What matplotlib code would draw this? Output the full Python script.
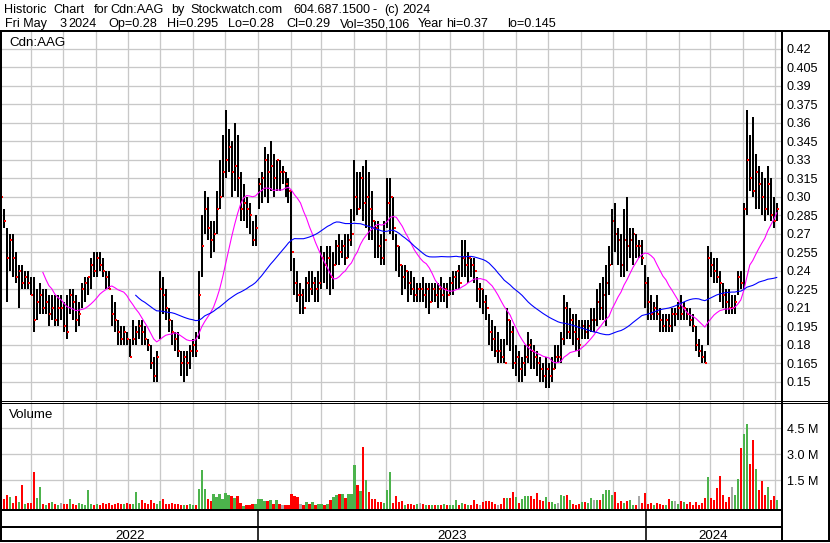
import numpy as np
import pandas as pd
import matplotlib
matplotlib.use("Agg")
import matplotlib.pyplot as plt
import matplotlib.dates as mdates
from matplotlib.lines import Line2D

plt.rcParams['font.family'] = ['Liberation Sans', 'DejaVu Sans']

# prices are stored in half-cent steps (57 -> 0.285), volume in 10,000 shares
STEP = 0.005
high = [
    61, 58, 55, 54, 54, 51, 49, 49, 48, 48,
    47, 47, 45, 46, 45, 45, 44, 44, 44, 44,
    44, 43, 44, 45, 45, 44, 43, 46, 47, 47,
    50, 51, 51, 51, 50, 48, 48, 44, 43, 40,
    39, 39, 38, 37, 40, 39, 40, 40, 39, 37,
    36, 34, 35, 48, 47, 45, 42, 40, 38, 38,
    35, 35, 35, 36, 37, 38, 48, 57, 61, 60,
    56, 56, 61, 66, 70, 74, 71, 69, 72, 70,
    64, 62, 60, 59, 56, 57, 63, 64, 68, 67,
    69, 67, 66, 66, 65, 64, 63, 61, 50, 48,
    46, 45, 47, 48, 48, 47, 48, 52, 51, 52,
    52, 51, 53, 54, 53, 54, 54, 58, 66, 64,
    64, 65, 66, 64, 61, 56, 56, 54, 56, 63,
    63, 60, 54, 52, 49, 49, 48, 48, 47, 46,
    46, 47, 46, 46, 46, 46, 46, 47, 46, 46,
    47, 48, 48, 49, 53, 53, 51, 50, 50, 47,
    46, 45, 44, 41, 40, 39, 38, 37, 37, 42,
    40, 39, 36, 35, 34, 36, 38, 37, 36, 35,
    34, 33, 34, 33, 34, 36, 36, 38, 44, 43,
    42, 41, 41, 40, 40, 40, 40, 42, 42, 45,
    46, 47, 49, 52, 58, 59, 55, 54, 58, 60,
    55, 55, 54, 53, 53, 49, 47, 44, 43, 44,
    42, 41, 41, 41, 42, 42, 43, 44, 43, 42,
    42, 41, 39, 37, 36, 35, 52, 51, 50, 50,
    48, 46, 45, 45, 44, 44, 48, 48, 59, 74,
    70, 73, 67, 65, 64, 63, 65, 63, 60, 59,
]
low = [
    58, 55, 43, 48, 47, 46, 42, 45, 45, 45,
    44, 38, 40, 41, 41, 41, 39, 40, 39, 39,
    40, 38, 37, 41, 40, 38, 39, 42, 43, 44,
    45, 47, 47, 48, 47, 45, 45, 39, 38, 36,
    36, 36, 36, 34, 36, 36, 37, 36, 36, 35,
    32, 30, 30, 37, 41, 40, 38, 36, 35, 34,
    31, 30, 31, 32, 34, 34, 37, 47, 54, 53,
    50, 51, 54, 58, 60, 63, 64, 60, 61, 60,
    56, 56, 55, 54, 52, 52, 58, 59, 60, 59,
    61, 60, 61, 61, 62, 60, 59, 48, 44, 43,
    41, 41, 43, 43, 44, 43, 43, 45, 46, 45,
    44, 45, 49, 49, 50, 49, 50, 52, 56, 57,
    58, 56, 55, 53, 53, 50, 50, 49, 49, 55,
    54, 53, 48, 47, 44, 45, 43, 44, 43, 43,
    43, 43, 42, 41, 43, 43, 42, 43, 43, 42,
    44, 44, 45, 45, 47, 47, 46, 47, 46, 43,
    42, 41, 40, 36, 35, 34, 33, 33, 33, 36,
    35, 32, 31, 30, 30, 31, 33, 32, 32, 31,
    30, 30, 29, 29, 30, 32, 33, 33, 36, 37,
    37, 36, 35, 34, 37, 37, 37, 38, 38, 39,
    40, 40, 39, 44, 49, 51, 49, 47, 47, 48,
    50, 49, 50, 50, 49, 42, 40, 40, 40, 40,
    38, 38, 38, 38, 38, 39, 40, 40, 40, 40,
    39, 38, 35, 34, 33, 33, 36, 47, 46, 46,
    43, 42, 41, 41, 41, 41, 44, 45, 45, 57,
    61, 60, 58, 58, 57, 56, 57, 56, 55, 56,
]
close = [
    60, 56, 50, 53, 50, 47, 48, 46, 47, 46,
    44, 40, 43, 44, 42, 43, 41, 42, 40, 42,
    42, 39, 38, 44, 43, 40, 41, 45, 46, 47,
    49, 48, 50, 49, 48, 47, 45, 41, 40, 38,
    37, 38, 37, 34, 37, 38, 39, 38, 37, 36,
    33, 31, 34, 45, 44, 42, 40, 38, 37, 35,
    33, 34, 33, 35, 36, 35, 44, 52, 58, 55,
    53, 54, 58, 60, 64, 66, 68, 64, 65, 63,
    58, 59, 58, 57, 53, 55, 62, 63, 66, 64,
    65, 63, 66, 64, 64, 62, 61, 51, 46, 44,
    44, 42, 46, 45, 46, 45, 46, 50, 49, 50,
    47, 49, 52, 51, 52, 50, 53, 54, 60, 58,
    63, 59, 60, 58, 56, 55, 52, 50, 53, 59,
    60, 55, 52, 49, 47, 48, 46, 45, 44, 45,
    45, 44, 45, 43, 45, 44, 45, 44, 45, 44,
    46, 47, 48, 46, 50, 49, 50, 49, 48, 45,
    45, 43, 42, 38, 37, 35, 35, 34, 33, 40,
    38, 33, 34, 32, 33, 34, 36, 35, 34, 33,
    32, 31, 32, 31, 32, 34, 34, 37, 42, 38,
    40, 38, 37, 36, 39, 38, 39, 40, 40, 43,
    42, 44, 46, 49, 56, 54, 53, 49, 53, 52,
    53, 54, 52, 52, 50, 46, 43, 41, 42, 41,
    40, 39, 40, 39, 41, 41, 42, 41, 42, 41,
    40, 39, 36, 35, 34, 33, 50, 49, 48, 47,
    46, 44, 43, 42, 42, 43, 47, 46, 58, 66,
    63, 61, 64, 62, 60, 58, 62, 57, 56, 58,
]
volume = [
    17, 40, 65, 55, 17, 60, 27, 123, 13, 17,
    17, 196, 46, 110, 12, 10, 20, 22, 15, 10,
    18, 12, 15, 42, 14, 10, 20, 12, 10, 94,
    12, 10, 14, 10, 17, 12, 20, 10, 12, 17,
    13, 12, 17, 13, 14, 80, 20, 37, 20, 12,
    37, 20, 15, 31, 40, 15, 13, 17, 12, 15,
    10, 8, 10, 12, 8, 10, 100, 210, 98, 40,
    30, 71, 56, 71, 40, 79, 65, 60, 46, 62,
    17, 4, 8, 10, 12, 12, 42, 40, 30, 31,
    36, 15, 37, 12, 10, 8, 10, 71, 60, 56,
    15, 10, 27, 12, 27, 10, 12, 15, 10, 14,
    37, 56, 65, 71, 69, 45, 71, 69, 238, 123,
    88, 344, 152, 85, 42, 40, 27, 23, 20, 94,
    196, 17, 60, 23, 31, 10, 12, 13, 10, 15,
    17, 13, 10, 5, 5, 5, 5, 5, 13, 5,
    8, 10, 35, 10, 20, 12, 10, 10, 35, 15,
    10, 27, 33, 33, 23, 15, 10, 15, 46, 46,
    46, 80, 52, 17, 42, 60, 60, 60, 40, 75,
    37, 31, 52, 27, 27, 15, 20, 65, 62, 65,
    35, 12, 10, 15, 27, 27, 20, 46, 37, 37,
    37, 69, 94, 94, 65, 81, 17, 31, 20, 31,
    37, 10, 10, 60, 17, 77, 12, 17, 10, 21,
    15, 10, 10, 42, 31, 31, 12, 31, 23, 15,
    23, 10, 27, 10, 17, 46, 167, 46, 37, 104,
    175, 65, 27, 56, 113, 65, 158, 338, 417, 475,
    244, 383, 215, 94, 146, 65, 112, 37, 60, 35,
]

price_labels = ['0.15', '0.165', '0.18', '0.195', '0.21', '0.225', '0.24',
                '0.255', '0.27', '0.285', '0.30', '0.315', '0.33', '0.345',
                '0.36', '0.375', '0.39', '0.405', '0.42']
vol_ticks = [1.5e6, 3.0e6, 4.5e6]
vol_labels = ['1.5 M', '3.0 M', '4.5 M']
years = ['2022', '2023', '2024']

title_words = [('Historic', 4), ('Chart', 53), ('for', 94), ('Cdn:AAG', 110),
               ('by', 171), ('Stockwatch.com', 190), ('604.687.1500', 293),
               ('-', 372), ('(c)', 384), ('2024', 402)]
info_words = [('Fri May', 5), ('3', 59), ('2024', 68), ('Op=0.28', 108),
              ('Hi=0.295', 167), ('Lo=0.28', 228), ('Cl=0.29', 286),
              ('Vol=350,106', 340), ('Year', 418), ('hi=0.37', 446),
              ('lo=0.145', 507)]

hi = np.array(high) * STEP
lo = np.array(low) * STEP
cl = np.array(close) * STEP
vol = np.array(volume) * 1e4

dates = pd.date_range('2022-05-04', '2024-05-03', periods=len(close))
x_left, x_right = pd.Timestamp('2022-05-05'), pd.Timestamp('2024-05-07')

ma_fast = pd.Series(cl).rolling(15).mean()
ma_slow = pd.Series(cl).rolling(46).mean()

chg = np.diff(cl, prepend=cl[0])
vol_colors = np.where(chg > 1e-9, '#4cb34c', np.where(chg < -1e-9, '#ff0000', '#a8a8a8'))

W, H = 830, 543
GRID = '#c8c8c8'
PX = 0.72  # one pixel in points at 100 dpi
FS = 9.1


def fx(x):
    return x / W


def fy(y):
    return 1 - y / H


def rect(x0, y0, x1, y1):
    return [fx(x0), fy(y1), (x1 - x0) / W, (y1 - y0) / H]


fig = plt.figure(figsize=(8.3, 5.43), dpi=100)
fig.patch.set_facecolor('white')


def line(x0, y0, x1, y1, w=2):
    fig.add_artist(Line2D([fx(x0), fx(x1)], [fy(y0), fy(y1)], color='black',
                          lw=w * PX, transform=fig.transFigure,
                          solid_capstyle='butt'))


ax_p = fig.add_axes(rect(2, 32, 781, 400))
ax_v = fig.add_axes(rect(2, 402, 781, 509))
ax_y = fig.add_axes(rect(2, 509, 781, 541))

for ax in (ax_p, ax_v, ax_y):
    ax.set_xlim(x_left, x_right)
    for s in ax.spines.values():
        s.set_visible(False)
    ax.xaxis.set_major_locator(mdates.MonthLocator())
    ax.tick_params(length=0, labelbottom=False, labelleft=False)
    ax.set_axisbelow(True)

# price panel
ax_p.set_ylim(0.1352, 0.4336)
ax_p.set_yticks([float(s) for s in price_labels])
ax_p.set_yticklabels(price_labels)
ax_p.yaxis.tick_right()
ax_p.tick_params(axis='y', length=0, pad=4.0, labelsize=FS, labelright=True)
ax_p.grid(True, color=GRID, lw=PX * 1.3)
ax_p.vlines(dates, lo, hi, color='black', lw=2.0 * PX)
ax_p.hlines(cl, dates + pd.Timedelta(hours=12), dates + pd.Timedelta(days=2.3),
            color='#ff0000', lw=2 * PX)
ax_p.plot(dates, ma_fast, color='#ff00ff', lw=1.1 * PX)
ax_p.plot(dates, ma_slow, color='#0000ff', lw=1.1 * PX)

# volume panel
v_lo = -0.156e6
ax_v.set_ylim(v_lo, 6.017e6)
ax_v.set_yticks(vol_ticks)
ax_v.set_yticklabels(vol_labels)
ax_v.yaxis.tick_right()
ax_v.tick_params(axis='y', length=0, pad=4.0, labelsize=FS, labelright=True)
ax_v.grid(True, color=GRID, lw=PX * 1.3)
ax_v.bar(dates, vol - v_lo, bottom=v_lo, width=2.1, color=vol_colors, lw=0)

# year strip
ax_y.set_ylim(0, 32)
ax_y.set_yticks([])
ax_y.set_xticks([])
edges = [x_left] + [pd.Timestamp(f'{y}-01-01') for y in years[1:]] + [x_right]
for i, y in enumerate(years):
    if i > 0:
        ax_y.axvline(edges[i], color='black', lw=1.6 * PX)
    mid = edges[i] + (edges[i + 1] - edges[i]) / 2
    ax_y.text(mid, 1.8, y, ha='center', va='baseline', fontsize=FS + 0.5)

# frame
line(0, 31, 830, 31)
line(0, 400.5, 830, 400.5, 1)
line(0, 403, 830, 403, 1)
line(0, 509.5, 781, 509.5)
line(0, 527, 781, 527)
line(0, 541, 830, 541)
line(1, 31, 1, 542)
line(781.5, 31, 781.5, 542)
line(828.5, 31, 828.5, 542)

# texts
for s, x in title_words:
    fig.text(fx(x), fy(13.3), s, fontsize=FS, va='baseline')
for s, x in info_words:
    fig.text(fx(x), fy(27.3), s, fontsize=FS, va='baseline')
fig.text(fx(9), fy(46), 'Cdn:AAG', fontsize=FS + 0.5, va='baseline')
fig.text(fx(9), fy(417.7), 'Volume', fontsize=FS + 0.5, va='baseline')

fig.savefig('out.png', dpi=100, facecolor='white')
